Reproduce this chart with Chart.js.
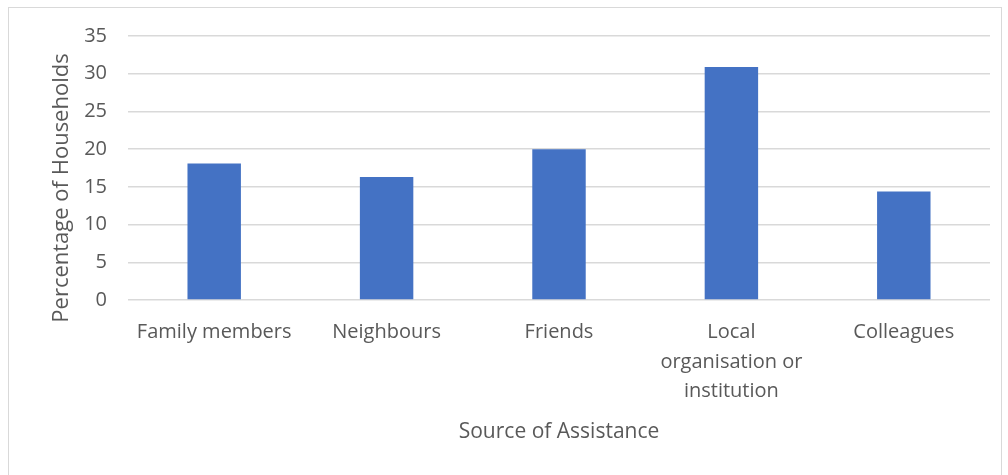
<!DOCTYPE html>
<html>
<head>
<meta charset="utf-8">
<script src="https://cdn.jsdelivr.net/npm/chart.js"></script>
<style>
  html, body { margin: 0; padding: 0; background: #fff; }
  #wrap { position: relative; width: 1008px; height: 475px; overflow: hidden; }
  #frame { position: absolute; left: 8px; top: 7px; width: 994px; height: 480px; border: 1px solid #d9d9d9; box-sizing: border-box; }
  canvas { position: absolute; left: 0; top: 0; }
</style>
</head>
<body>
<div id="wrap">
  <div id="frame"></div>
  <canvas id="myChart" width="1008" height="475"></canvas>
</div>
<script>
// data
const categories = ['Family members', 'Neighbours', 'Friends', ['Local', 'organisation or', 'institution'], 'Colleagues'];
const householdPct = [18.1, 16.3, 20, 30.9, 14.4];
const yTicks = [0, 5, 10, 15, 20, 25, 30, 35];
const yTitle = 'Percentage of Households';

const textColor = '#595959';

// y title sits a bit lower than the plot centre in the original, so draw it by hand
const yTitlePlugin = {
  id: 'yTitle',
  afterDraw(chart) {
    const c = chart.ctx;
    const area = chart.chartArea;
    c.save();
    c.translate(62, (area.top + area.bottom) / 2 + 20);
    c.rotate(-Math.PI / 2);
    c.fillStyle = textColor;
    c.font = '22px "Open Sans"';
    c.textAlign = 'center';
    c.textBaseline = 'middle';
    c.fillText(yTitle, 0, 0);
    c.restore();
  }
};

const ctx = document.getElementById('myChart').getContext('2d');
new Chart(ctx, {
  type: 'bar',
  data: {
    labels: categories,
    datasets: [{
      data: householdPct,
      backgroundColor: '#4472c4',
      borderWidth: 0,
      barPercentage: 0.31,
      categoryPercentage: 1
    }]
  },
  plugins: [yTitlePlugin],
  options: {
    responsive: false,
    animation: false,
    layout: { padding: { left: 46, right: 18, top: 36, bottom: 26 } },
    plugins: { legend: { display: false }, tooltip: { enabled: false } },
    scales: {
      x: {
        grid: { display: false, drawTicks: false },
        border: { display: false },
        ticks: {
          color: textColor,
          padding: 18,
          maxRotation: 0,
          autoSkip: false,
          font: { family: 'Open Sans', size: 20, lineHeight: 1.47 }
        },
        title: {
          display: true,
          text: 'Source of Assistance',
          color: textColor,
          font: { family: 'Open Sans', size: 21 },
          padding: { top: 4, bottom: 4 }
        },
        afterFit: (axis) => { axis.height = 149; }
      },
      y: {
        min: 0,
        max: 35,
        afterBuildTicks: (axis) => { axis.ticks = yTicks.map(v => ({ value: v })); },
        grid: { color: '#d9d9d9', lineWidth: 1.5, drawTicks: false },
        border: { display: false },
        ticks: {
          color: textColor,
          padding: 21,
          font: { family: 'Open Sans', size: 20 }
        },
        title: { display: false },
        afterFit: (axis) => { axis.width = 82; }
      }
    }
  }
});
</script>
</body>
</html>
